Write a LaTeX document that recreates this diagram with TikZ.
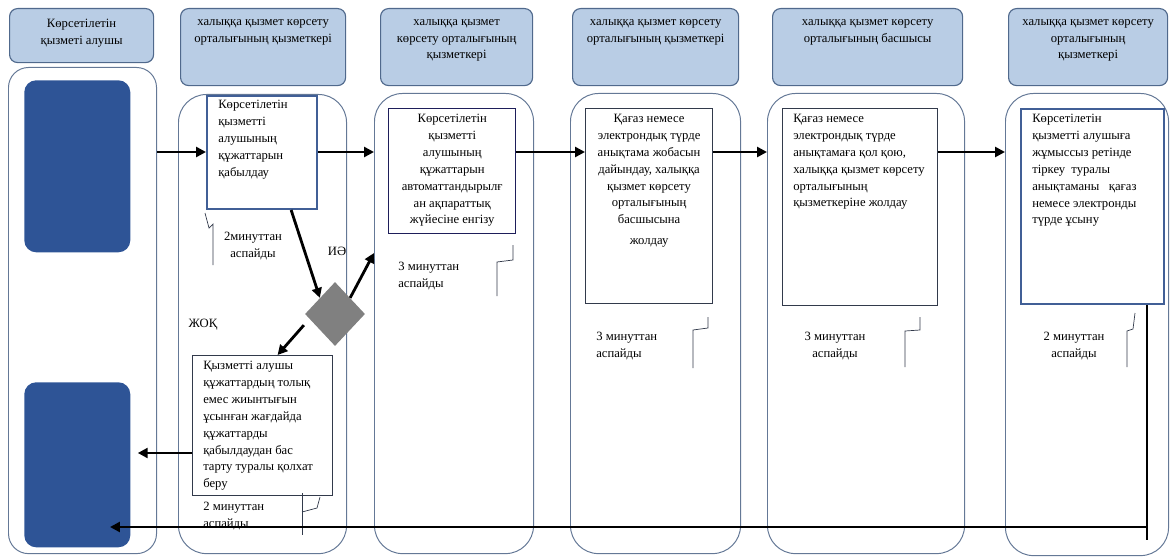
\documentclass[tikz,border=0pt]{standalone}
\usepackage{fontspec}
\setmainfont{Liberation Serif}
\usetikzlibrary{shapes.geometric,arrows.meta,calc}

\definecolor{hdrfill}{RGB}{185,205,229}
\definecolor{hdrline}{RGB}{80,105,140}
\definecolor{laneline}{RGB}{100,120,150}
\definecolor{blkfill}{RGB}{46,84,150}
\definecolor{boxline}{RGB}{65,95,150}
\definecolor{navyline}{RGB}{30,30,90}
\definecolor{darkline}{RGB}{50,58,75}
\definecolor{decgray}{RGB}{128,128,128}

\begin{document}
\begin{tikzpicture}[x=0.025cm,y=-0.025cm,
    hdr/.style={draw=hdrline,fill=hdrfill,rounded corners=0.2cm,line width=0.8pt,anchor=north west,inner sep=0pt},
    hdrtext/.style={anchor=north,align=center,inner sep=0pt,font=\fontsize{9}{12}\selectfont},
    lane/.style={draw=laneline,rounded corners=0.7cm,line width=0.7pt,anchor=north west,inner sep=0pt},
    blk/.style={fill=blkfill,rounded corners=0.3cm,anchor=north west,inner sep=0pt},
    procbox/.style={draw=boxline,fill=white,anchor=north west,inner sep=0pt},
    proctext/.style={inner sep=0pt,font=\fontsize{9}{12}\selectfont},
    note/.style={inner sep=0pt,font=\fontsize{9}{12}\selectfont},
    flow/.style={-{Triangle[length=7pt,width=7pt]},line width=2pt},
    tick/.style={draw=darkline,line width=0.5pt}]

    \useasboundingbox (0,0) rectangle (1170,558);

    % swim lanes
    \node[lane,rounded corners=0.5cm,minimum width=3.7cm,minimum height=12.15cm] (laneA) at (8,67) {};
    \node[lane,minimum width=4.2cm,minimum height=11.475cm] (laneB) at (178,94) {};
    \node[lane,minimum width=3.975cm,minimum height=11.5cm] (laneC) at (374,93) {};
    \node[lane,minimum width=4.25cm,minimum height=11.5cm] (laneD) at (570,93) {};
    \node[lane,minimum width=4.925cm,minimum height=11.5cm] (laneE) at (767,93) {};
    \node[lane,minimum width=4.075cm,minimum height=11.55cm] (laneF) at (1005,93) {};

    % headers
    \node[hdr,minimum width=3.6cm,minimum height=1.35cm] (hA) at (9,8) {};
    \node[hdr,minimum width=4.125cm,minimum height=1.925cm] (hB) at (180,8) {};
    \node[hdr,minimum width=3.8cm,minimum height=1.925cm] (hC) at (380,8) {};
    \node[hdr,minimum width=4.15cm,minimum height=1.925cm] (hD) at (572,8) {};
    \node[hdr,minimum width=4.75cm,minimum height=1.925cm] (hE) at (772,8) {};
    \node[hdr,minimum width=3.975cm,minimum height=1.925cm] (hF) at (1008,8) {};

    \node[hdrtext] (tHA) at ($(hA.north)+(0,11)$) {Көрсетілетін\\қызметі алушы};
    \node[hdrtext] (tHB) at ($(hB.north)+(0,11)$) {халыққа қызмет көрсету\\орталығының қызметкері};
    \node[hdrtext] (tHC) at ($(hC.north)+(0,11)$) {халыққа қызмет\\көрсету орталығының\\қызметкері};
    \node[hdrtext] (tHD) at ($(hD.north)+(0,11)$) {халыққа қызмет көрсету\\орталығының қызметкері};
    \node[hdrtext] (tHE) at ($(hE.north)+(0,11)$) {халыққа қызмет көрсету\\орталығының басшысы};
    \node[hdrtext] (tHF) at ($(hF.north)+(0,11)$) {халыққа қызмет көрсету\\орталығының\\қызметкері};

    % start / end blocks
    \node[blk,minimum width=2.65cm,minimum height=4.3cm] (start) at (24,80) {};
    \node[blk,minimum width=2.65cm,minimum height=4.125cm] (stop) at (24,382) {};

    % process boxes
    \node[procbox,line width=1.4pt,minimum width=2.75cm,minimum height=2.825cm] (recv) at (206,95) {};
    \node[procbox,draw=navyline,line width=1pt,minimum width=3.175cm,minimum height=3.125cm] (enter) at (388,108) {};
    \node[procbox,draw=darkline,line width=0.8pt,minimum width=3.175cm,minimum height=4.875cm] (draft) at (585,108) {};
    \node[procbox,draw=darkline,line width=0.8pt,minimum width=3.875cm,minimum height=4.925cm] (sign) at (782,108) {};
    \node[procbox,line width=1.6pt,minimum width=3.575cm,minimum height=4.875cm] (issue) at (1020,108) {};
    \node[procbox,draw=darkline,line width=0.8pt,minimum width=3.5cm,minimum height=3.5cm] (fail) at (192,355) {};

    \node[proctext,anchor=north west,align=left] (tRecv) at ($(recv.north west)+(12,5)$)
        {Көрсетілетін\\қызметті\\алушының\\құжаттарын\\қабылдау};
    \node[proctext,anchor=north,align=center] (tEnter) at ($(enter.north)+(0,6)$)
        {Көрсетілетін\\қызметті\\алушының\\құжаттарын\\автоматтандырылғ\\ан ақпараттық\\жүйесіне енгізу};
    \node[proctext,anchor=north,align=center] (tDraft) at ($(draft.north)+(0,6)$)
        {Қағаз немесе\\электрондық түрде\\анықтама жобасын\\дайындау, халыққа\\қызмет көрсету\\орталығының\\басшысына\\[3pt]жолдау};
    \node[proctext,anchor=north west,align=left] (tSign) at ($(sign.north west)+(11,6)$)
        {Қағаз немесе\\электрондық түрде\\анықтамаға қол қою,\\халыққа қызмет көрсету\\орталығының\\қызметкеріне жолдау};
    \node[proctext,anchor=north west,align=left] (tIssue) at ($(issue.north west)+(12,6)$)
        {Көрсетілетін\\қызметті алушыға\\жұмыссыз ретінде\\тіркеу~ туралы\\анықтаманы~~ қағаз\\немесе электронды\\түрде ұсыну};
    \node[proctext,anchor=north west,align=left] (tFail) at ($(fail.north west)+(11,6)$)
        {Қызметті алушы\\құжаттардың толық\\емес жиынтығын\\ұсынған жағдайда\\құжаттарды\\қабылдаудан бас\\тарту туралы қолхат\\беру};

    % decision
    \node[diamond,fill=decgray,inner sep=0pt,minimum width=1.5cm,minimum height=1.6cm] (check) at (335,314) {};

    % time marks
    \draw[tick] (205,213) -- (209,228) -- (213,224) -- (213,265);
    \draw[tick] (513,245) -- (513,260) -- (497,262) -- (497,296);
    \draw[tick] (708,317) -- (708,328) -- (693,330) -- (693,368);
    \draw[tick] (920,317) -- (920,330) -- (905,331) -- (905,367);
    \draw[tick] (1135,313) -- (1133,329) -- (1127,331) -- (1127,367);
    \draw[tick] (320,497) -- (317,508) -- (302,512);
    \draw[tick] (302,493) -- (302,535);

    \node[note,align=center] (tmA) at (253,246) {2минуттан\\аспайды};
    \node[note,align=left,anchor=west] (tmB) at (398,276) {3 минуттан\\аспайды};
    \node[note,align=left,anchor=west] (tmC) at (596,346) {3 минуттан\\аспайды};
    \node[note,align=center] (tmD) at (835,346) {3 минуттан\\аспайды};
    \node[note,align=center] (tmE) at (1074,346) {2 минуттан\\аспайды};
    \node[note,align=left,anchor=west] (tmF) at (203,516) {2 минуттан\\аспайды};

    \node[note] (yeslbl) at (337,251) {ИӘ};
    \node[note] (nolbl) at (203,325) {ЖОҚ};

    % flow
    \coordinate (row) at (0,152);
    \coordinate (row2) at (0,453);
    \coordinate (yes) at (374,253);
    \coordinate (retx) at (1147,540);
    \coordinate (home) at (110,527);

    \path[flow] (laneA.east |- row) edge (recv.west |- row);
    \path[flow] (recv.east |- row) edge (laneC.west |- row);
    \path[flow] (enter.east |- row) edge (draft.west |- row);
    \path[flow] (draft.east |- row) edge (laneE.west |- row);
    \path[flow] (sign.east |- row) edge (laneF.west |- row);
    \path[flow] ($(recv.south west)!0.76!(recv.south east)$) edge (check.north west);
    \path[flow] (check.north east) edge (yes);
    \path[flow] ($(check.south west)+(-16,-5)$) edge ($(fail.north)+(15,0)$);
    \path[flow,shorten >=0.18cm] (fail.west |- row2) edge (stop.east |- row2);
    \draw[line width=2pt] (issue.south -| retx) -- (retx);
    \path[flow] (retx |- home) edge (home);

\end{tikzpicture}
\end{document}
